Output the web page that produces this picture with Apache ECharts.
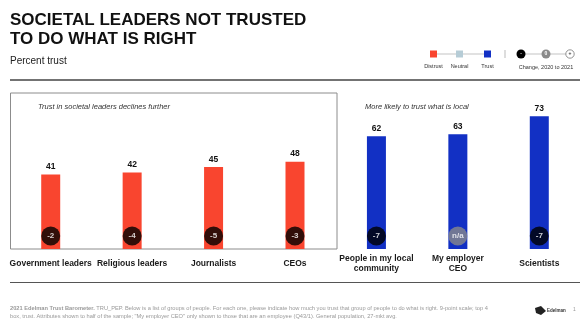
<!DOCTYPE html>
<html>
<head>
<meta charset="utf-8">
<style>
  html, body { margin: 0; padding: 0; background: #fff; }
  #chart { width: 580px; height: 326px; }
</style>
<script src="https://cdn.jsdelivr.net/npm/echarts@6/dist/echarts.min.js"></script>
</head>
<body>
<div id="chart"></div>
<script>
// Groups of people and the share who trust each to do what is right (2021)
const categories = [
  'Government leaders', 'Religious leaders', 'Journalists', 'CEOs',
  'People in my local\ncommunity', 'My employer\nCEO', 'Scientists'
];
const trustValues = [41, 42, 45, 48, 62, 63, 73];
// Change in trust, 2020 to 2021 (null = not asked in 2020)
const changeValues = [-2, -4, -5, -3, -7, null, -7];
// Trust level band per group: distrust (red) or trust (blue)
const trustBands = ['distrust', 'distrust', 'distrust', 'distrust', 'trust', 'trust', 'trust'];

const FONT = '"Liberation Sans", Arial, Helvetica, sans-serif';
const bandColors = { distrust: '#F9452F', neutral: '#B6CCD6', trust: '#1230C4' };

const chart = echarts.init(document.getElementById('chart'), null, { renderer: 'canvas' });

const footerLine1 = 'TRU_PEP. Below is a list of groups of people. For each one, please indicate how much you trust that group of people to do what is right. 9-point scale; top 4';
const footerLine2 = 'box, trust. Attributes shown to half of the sample; "My employer CEO" only shown to those that are an employee (Q43/1). General population, 27-mkt avg.';

const option = {
  animation: false,
  textStyle: { fontFamily: FONT },
  grid: { left: 10, top: 67, width: 571, height: 182 },
  xAxis: {
    type: 'category',
    data: categories,
    axisLine: { show: false },
    axisTick: { show: false },
    axisLabel: {
      interval: 0,
      margin: 15,
      verticalAlign: 'middle',
      fontFamily: FONT,
      fontSize: 8.5,
      lineHeight: 10,
      fontWeight: 'bold',
      color: '#1a1a1a'
    }
  },
  yAxis: { type: 'value', min: 0, max: 100, show: false },
  graphic: [
    // headline
    { type: 'text', left: 10, top: 11, style: { text: 'SOCIETAL LEADERS NOT TRUSTED\nTO DO WHAT IS RIGHT', font: 'bold 17px ' + FONT, lineHeight: 19, fill: '#111' } },
    { type: 'text', left: 10, top: 56, style: { text: 'Percent trust', font: '10px ' + FONT, fill: '#222' } },
    // rules above and below the chart
    { type: 'line', shape: { x1: 10, y1: 80, x2: 580, y2: 80 }, style: { stroke: '#444', lineWidth: 1.5 } },
    { type: 'line', shape: { x1: 10, y1: 282.5, x2: 580, y2: 282.5 }, style: { stroke: '#555', lineWidth: 1.2 } },
    // frame around the societal-leaders group
    { type: 'rect', shape: { x: 10.5, y: 93, width: 326.5, height: 156 }, style: { fill: 'none', stroke: '#8c8c8c', lineWidth: 1 }, z: 0 },
    { type: 'text', left: 38, top: 103, style: { text: 'Trust in societal leaders declines further', font: 'italic 7.5px ' + FONT, fill: '#333' } },
    { type: 'text', left: 365, top: 103, style: { text: 'More likely to trust what is local', font: 'italic 7.5px ' + FONT, fill: '#333' } },
    // legend: trust bands
    { type: 'line', shape: { x1: 434, y1: 54, x2: 488, y2: 54 }, style: { stroke: '#9a9a9a', lineWidth: 0.6 } },
    { type: 'rect', shape: { x: 430, y: 50.5, width: 7, height: 7 }, style: { fill: bandColors.distrust } },
    { type: 'rect', shape: { x: 456, y: 50.5, width: 7, height: 7 }, style: { fill: bandColors.neutral } },
    { type: 'rect', shape: { x: 484, y: 50.5, width: 7, height: 7 }, style: { fill: bandColors.trust } },
    { type: 'text', x: 433.5, y: 66, style: { text: 'Distrust', font: '5.5px ' + FONT, fill: '#333', align: 'center', verticalAlign: 'middle' } },
    { type: 'text', x: 459.5, y: 66, style: { text: 'Neutral', font: '5.5px ' + FONT, fill: '#333', align: 'center', verticalAlign: 'middle' } },
    { type: 'text', x: 487.5, y: 66, style: { text: 'Trust', font: '5.5px ' + FONT, fill: '#333', align: 'center', verticalAlign: 'middle' } },
    { type: 'line', shape: { x1: 505, y1: 50, x2: 505, y2: 58 }, style: { stroke: '#aaa', lineWidth: 0.8 } },
    // legend: change markers
    { type: 'line', shape: { x1: 521, y1: 54, x2: 570, y2: 54 }, style: { stroke: '#9a9a9a', lineWidth: 0.6 } },
    { type: 'circle', shape: { cx: 521, cy: 54, r: 4.5 }, style: { fill: '#000' } },
    { type: 'text', x: 521, y: 54, style: { text: '-', font: 'bold 5px ' + FONT, fill: '#fff', align: 'center', verticalAlign: 'middle' } },
    { type: 'circle', shape: { cx: 546, cy: 54, r: 4.5 }, style: { fill: '#8a8a8a' } },
    { type: 'text', x: 546, y: 54, style: { text: '0', font: 'bold 5px ' + FONT, fill: '#fff', align: 'center', verticalAlign: 'middle' } },
    { type: 'circle', shape: { cx: 570, cy: 54, r: 4.2 }, style: { fill: '#fff', stroke: '#777', lineWidth: 0.8 } },
    { type: 'text', x: 570, y: 54, style: { text: '+', font: 'bold 5px ' + FONT, fill: '#333', align: 'center', verticalAlign: 'middle' } },
    { type: 'text', x: 546, y: 67, style: { text: 'Change, 2020 to 2021', font: '5.5px ' + FONT, fill: '#333', align: 'center', verticalAlign: 'middle' } },
    // source note
    {
      type: 'text', left: 10, top: 304,
      style: {
        text: '{b|2021 Edelman Trust Barometer.} ' + footerLine1 + '\n' + footerLine2,
        font: '5.7px ' + FONT, fill: '#999', lineHeight: 8,
        rich: { b: { fontWeight: 'bold', fontSize: 5.7, fill: '#999' } }
      }
    },
    // brand mark
    { type: 'polygon', shape: { points: [[535, 308], [541, 306], [546, 311], [541, 315], [536, 313]] }, style: { fill: '#222' } },
    { type: 'text', left: 547, top: 308, style: { text: 'Edelman', font: 'bold 4.5px ' + FONT, fill: '#333' } },
    { type: 'text', left: 573, top: 307, style: { text: '1', font: '5px ' + FONT, fill: '#999' } }
  ],
  series: [
    {
      type: 'bar',
      barWidth: 19,
      data: trustValues.map((v, i) => ({ value: v, itemStyle: { color: bandColors[trustBands[i]] } })),
      label: {
        show: true,
        position: 'top',
        distance: 3,
        fontFamily: FONT,
        fontSize: 8.5,
        fontWeight: 'bold',
        color: '#111'
      },
      z: 2
    },
    {
      type: 'scatter',
      data: changeValues.map((c, i) => ({
        value: [i, 0],
        change: c,
        itemStyle: { color: c === null ? '#8a8a8a' : '#000' }
      })),
      symbol: 'circle',
      symbolSize: 19,
      symbolOffset: [0, -13],
      label: {
        show: true,
        position: 'inside',
        fontFamily: FONT,
        fontSize: 8,
        fontWeight: 'bold',
        color: '#fff',
        formatter: p => (p.data.change === null ? 'n/a' : String(p.data.change))
      },
      z: 5
    }
  ]
};

chart.setOption(option);
</script>
</body>
</html>
